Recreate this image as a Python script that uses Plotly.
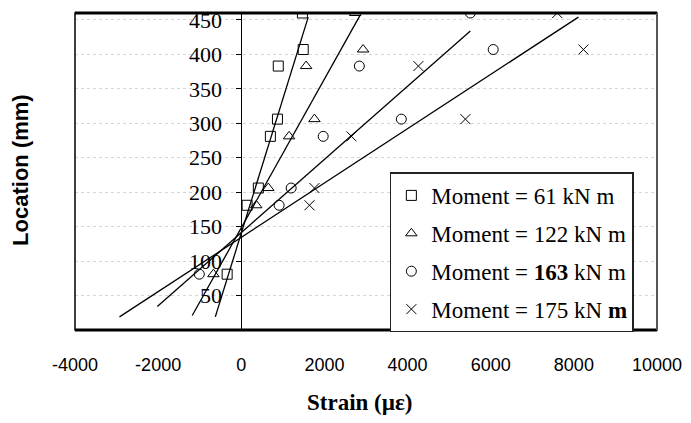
import plotly.graph_objects as go

# ---- data ----
location_mm = [460, 407, 383, 306, 281, 206, 181, 81]

strain_61 = [1470, 1490, 890, 870, 700, 410, 140, -340]
strain_122 = [2740, 2930, 1560, 1760, 1150, 650, 360, -670]
strain_163 = [5510, 6060, 2840, 3850, 1970, 1200, 910, -1010]
strain_175 = [7600, 8230, 4260, 5390, 2650, 1760, 1640, None]

series_names = [
    "Moment = 61 kN m",
    "Moment = 122 kN m",
    "Moment = <b>163</b> kN m",
    "Moment = 175 kN <b>m</b>",
]
series_symbols = ["square-open", "triangle-up-open", "circle-open", "x-thin-open"]

# linear trend lines: end points (strain, location)
fit_strain_start = [-625, -1180, -2020, -2930]
fit_strain_end = [1610, 2860, 5510, 8110]
fit_loc_start = [19, 21, 34, 19]
fit_loc_end = [454, 457, 434, 454]

x_range = [-4000, 10000]
y_range = [0, 460]
x_tick_values = [-4000, -2000, 0, 2000, 4000, 6000, 8000, 10000]
x_tick_labels = ["-4000", "-2000", "0", "2000", "4000", "6000", "8000", "10000"]
y_tick_values = [50, 100, 150, 200, 250, 300, 350, 400, 450]

all_strains = [strain_61, strain_122, strain_163, strain_175]

fig = go.Figure()

for i in range(4):
    fig.add_trace(go.Scatter(
        x=[fit_strain_start[i], fit_strain_end[i]],
        y=[fit_loc_start[i], fit_loc_end[i]],
        mode="lines",
        line=dict(color="black", width=1.3),
        showlegend=False,
        hoverinfo="skip",
    ))

for i in range(4):
    fig.add_trace(go.Scatter(
        x=all_strains[i],
        y=location_mm,
        mode="markers",
        name=series_names[i],
        legendgroup="g%d" % i,
        marker=dict(symbol=series_symbols[i], size=10, color="black",
                    line=dict(color="black", width=1)),
    ))

y_axis_pos = (0 - x_range[0]) / (x_range[1] - x_range[0])

fig.update_layout(
    width=691, height=423, autosize=False,
    margin=dict(l=75, r=34, t=8, b=93),
    paper_bgcolor="white", plot_bgcolor="white",
    xaxis=dict(
        range=x_range, tickvals=x_tick_values, ticktext=x_tick_labels,
        showgrid=False, zeroline=False, showline=False, ticks="",
        tickfont=dict(family="Liberation Sans", size=18, color="black"),
        ticklabelstandoff=22,
    ),
    yaxis=dict(
        range=y_range, tickvals=y_tick_values,
        anchor="free", position=y_axis_pos,
        showline=True, linecolor="black", linewidth=1,
        ticks="outside", ticklen=5, tickcolor="black",
        showgrid=True, gridcolor="#d6d6d6", griddash="dot", gridwidth=1,
        zeroline=False,
        tickfont=dict(family="Liberation Serif", size=22, color="black"),
        ticklabelstandoff=10,
    ),
    legend=dict(
        x=0.541, y=0.497, xanchor="left", yanchor="top",
        bgcolor="white", bordercolor="#222", borderwidth=1.5,
        font=dict(family="Liberation Serif", size=23, color="black"),
        tracegroupgap=5,
    ),
    shapes=[
        dict(type="rect", xref="paper", yref="paper", x0=0, y0=0, x1=1, y1=1,
             line=dict(color="black", width=1.5)),
        dict(type="line", xref="paper", yref="paper", x0=0, y0=1, x1=1, y1=1,
             line=dict(color="black", width=3)),
        dict(type="line", xref="paper", yref="paper", x0=0, y0=0, x1=1, y1=0,
             line=dict(color="black", width=3)),
        dict(type="line", xref="paper", yref="paper", x0=1, y0=0, x1=1, y1=1,
             line=dict(color="#555", width=2)),
    ],
    annotations=[
        dict(text="<b>Location (mm)</b>", xref="paper", yref="paper",
             x=-0.094, y=0.506, textangle=-90, showarrow=False,
             xanchor="center", yanchor="middle",
             font=dict(family="Liberation Sans", size=22, color="black")),
        dict(text="<b>Strain (µε)</b>", xref="paper", yref="paper",
             x=0.49, y=-0.23, showarrow=False,
             xanchor="center", yanchor="middle",
             font=dict(family="Liberation Serif", size=23, color="black")),
    ],
)

fig.write_html(
    "out.html",
    config={"displayModeBar": False},
    post_script="document.body.style.margin='0';document.body.style.overflow='hidden';",
)
